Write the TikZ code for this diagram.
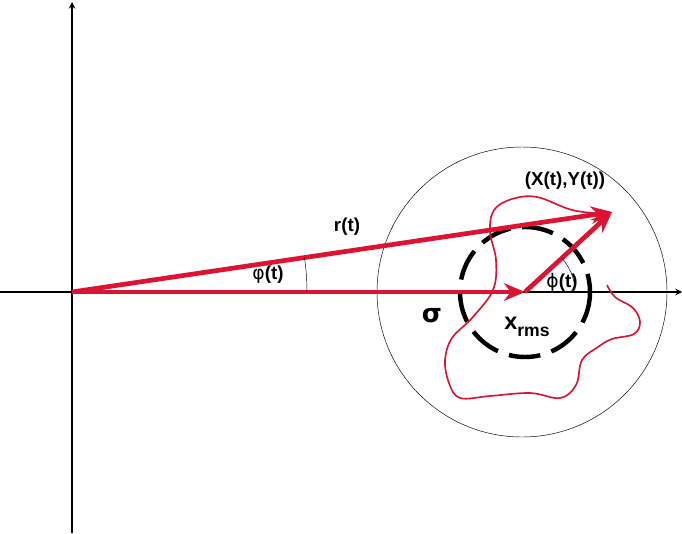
\documentclass[tikz,border=0pt]{standalone}
\usepackage{fontspec}
\setmainfont{Liberation Sans}
\newfontfamily\symfont{DejaVu Sans}
\usetikzlibrary{arrows.meta}
\definecolor{vecred}{RGB}{220,20,50}
\begin{document}
\begin{tikzpicture}[x=0.03cm,y=-0.03cm,
    lbl/.style={font=\fontsize{16}{18}\selectfont\bfseries},
    vec/.style={vecred,line width=4pt,-{Stealth[length=18pt,width=15pt]}}]
    \useasboundingbox (0,0) rectangle (682,533);
    \coordinate (O) at (72,292);
    \coordinate (C) at (525,292);
    \coordinate (P) at (612,212);
    \coordinate (xend) at (682,292);
    \coordinate (xbeg) at (0,292);
    \coordinate (ybeg) at (72,533);
    \coordinate (yend) at (72,2);
    \draw[line width=1.5pt,-stealth] (xbeg) -- (xend);
    \draw[line width=1.5pt,-stealth] (ybeg) -- (yend);
    \draw[thin] (522,292) circle (145);
    \draw[line width=3.8pt,dash pattern=on 27pt off 10pt] (C) circle (65);
    % trajectory
    \draw[vecred,line width=1.4pt] plot[smooth,tension=0.6] coordinates {(607,285) (615,297) (633,308) (640,322) (634,334) (612,339) (598,347) (582,360) (576,385) (560,398) (530,393) (490,396) (460,398) (449,383) (445,360) (452,338) (472,318) (493,290) (496,260) (490,232) (494,210) (512,199) (537,197) (572,210) (605,214)};
    \draw[vec] (O) -- (P);
    \draw[vec] (O) -- (C);
    \draw[vec] (C) -- (P);
    \draw[thin] ([shift={(0:235)}]O) arc[start angle=0,end angle=-8.4,radius=235];
    \draw[thin] ([shift={(0:50)}]C) arc[start angle=0,end angle=-42.6,radius=50];
    \node[lbl] (rt) at (347,227) {r(t)};
    \node[lbl] (phi) at (268,275) {{\symfont\mdseries φ}(t)};
    \node[lbl] (phis) at (562,282) {{\symfont\mdseries ϕ}(t)};
    \node[lbl] (xy) at (565,181) {(X(t),Y(t))};
    \node[lbl] (sig) at (432,316) {\fontsize{22}{24}\selectfont\symfont σ};
    \node[lbl] (xr) at (527,327) {\fontsize{20}{22}\selectfont x\raisebox{-6pt}{\fontsize{15}{16}\selectfont rms}};
\end{tikzpicture}
\end{document}
